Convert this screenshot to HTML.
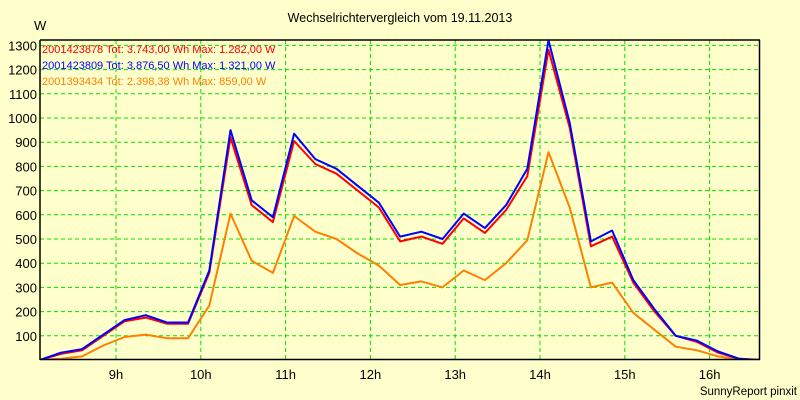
<!DOCTYPE html>
<html><head><meta charset="utf-8"><style>
html,body{margin:0;padding:0;background:#ffffcc;}
svg{display:block;font-family:"Liberation Sans",sans-serif;}
</style></head><body>
<svg id="chart" width="800" height="400" viewBox="0 0 800 400">
<rect x="0" y="0" width="800" height="400" fill="#ffffcc"/>
<text x="400" y="22" text-anchor="middle" font-size="12.5" fill="#000">Wechselrichtervergleich vom 19.11.2013</text>
<text x="34" y="30" font-size="13" fill="#000">W</text>
<g id="grid"></g>
<g id="yticks"></g>
<g id="xticks"></g>
<defs><clipPath id="plotclip"><rect x="40" y="40" width="720" height="320"/></clipPath></defs>
<g id="series" clip-path="url(#plotclip)"></g>
<line x1="40" y1="40" x2="760" y2="40" stroke="#000" stroke-width="1.5"/>
<line x1="40" y1="40" x2="40" y2="360" stroke="#000" stroke-width="1.5"/>
<line x1="759.5" y1="40" x2="759.5" y2="360" stroke="#000" stroke-width="1.5"/>
<line x1="40" y1="359.5" x2="760" y2="359.5" stroke="#000" stroke-width="1.5"/>
<text x="42" y="53" font-size="11" fill="#ff0000">2001423878 Tot: 3.743,00 Wh Max: 1.282,00 W</text>
<text x="42" y="69" font-size="11" fill="#0000ff">2001423809 Tot: 3.876,50 Wh Max: 1.321,00 W</text>
<text x="42" y="85" font-size="11" fill="#ff8000">2001393434 Tot: 2.398,38 Wh Max: 859,00 W</text>
<text x="797" y="395" text-anchor="end" font-size="11.5" fill="#000">SunnyReport pinxit</text>
</svg>
<script>
const startHour = 8.1;
const stepHours = 0.25;
const redValues = [0,25,40,100,160,175,150,150,360,920,640,570,905,810,770,700,630,490,510,480,585,525,620,760,1282,960,470,510,320,200,100,75,30,5,0];
const blueValues = [0,30,45,105,165,185,155,155,370,950,660,590,935,830,790,720,650,510,530,500,605,545,640,790,1321,980,490,535,330,210,100,80,35,5,0];
const orangeValues = [0,5,15,60,95,105,90,90,225,605,410,360,595,530,500,440,390,310,325,300,370,330,400,495,859,630,300,320,195,125,55,40,15,2,0];
const yTicks = [100,200,300,400,500,600,700,800,900,1000,1100,1200,1300];
const xTickHours = [9,10,11,12,13,14,15,16];
const xTickLabels = ["9h","10h","11h","12h","13h","14h","15h","16h"];

const NS = "http://www.w3.org/2000/svg";
function xScale(h){ return 116 + (h - 9) * 84.8; }
function yScale(v){ return 360 - v * 0.242; }
const grid = document.getElementById('grid');
const yt = document.getElementById('yticks');
const xt = document.getElementById('xticks');
yTicks.forEach(v => {
  const y = yScale(v);
  const l = document.createElementNS(NS,'line');
  l.setAttribute('x1',40); l.setAttribute('x2',760); l.setAttribute('y1',y); l.setAttribute('y2',y);
  l.setAttribute('stroke','#00e000'); l.setAttribute('stroke-dasharray','4,3');
  
  
  grid.appendChild(l);
  const t = document.createElementNS(NS,'text');
  t.setAttribute('x',37); t.setAttribute('y',y+5); t.setAttribute('text-anchor','end'); t.setAttribute('font-size','13');
  t.textContent = v;
  
  
  yt.appendChild(t);
});
xTickHours.forEach((h,i) => {
  const x = xScale(h);
  const l = document.createElementNS(NS,'line');
  l.setAttribute('x1',x); l.setAttribute('x2',x); l.setAttribute('y1',40); l.setAttribute('y2',360);
  l.setAttribute('stroke','#00e000'); l.setAttribute('stroke-dasharray','4,3');
  
  
  grid.appendChild(l);
  const t = document.createElementNS(NS,'text');
  t.setAttribute('x',x); t.setAttribute('y',379); t.setAttribute('text-anchor','middle'); t.setAttribute('font-size','13');
  t.textContent = xTickLabels[i];
  
  
  xt.appendChild(t);
});
const series = document.getElementById('series');
function drawLine(vals, color, name){
  const pts = vals.map((v,i) => xScale(startHour + i*stepHours).toFixed(1) + ',' + yScale(v).toFixed(1)).join(' ');
  const p = document.createElementNS(NS,'polyline');
  p.setAttribute('points', pts);
  p.setAttribute('fill','none'); p.setAttribute('stroke',color); p.setAttribute('stroke-width','2');
  p.setAttribute('stroke-linejoin','round');
  
  
  series.appendChild(p);
}
drawLine(orangeValues, '#ff8000', 'series-2001393434');
drawLine(redValues, '#ff0000', 'series-2001423878');
drawLine(blueValues, '#0000ff', 'series-2001423809');
</script>
</body></html>
